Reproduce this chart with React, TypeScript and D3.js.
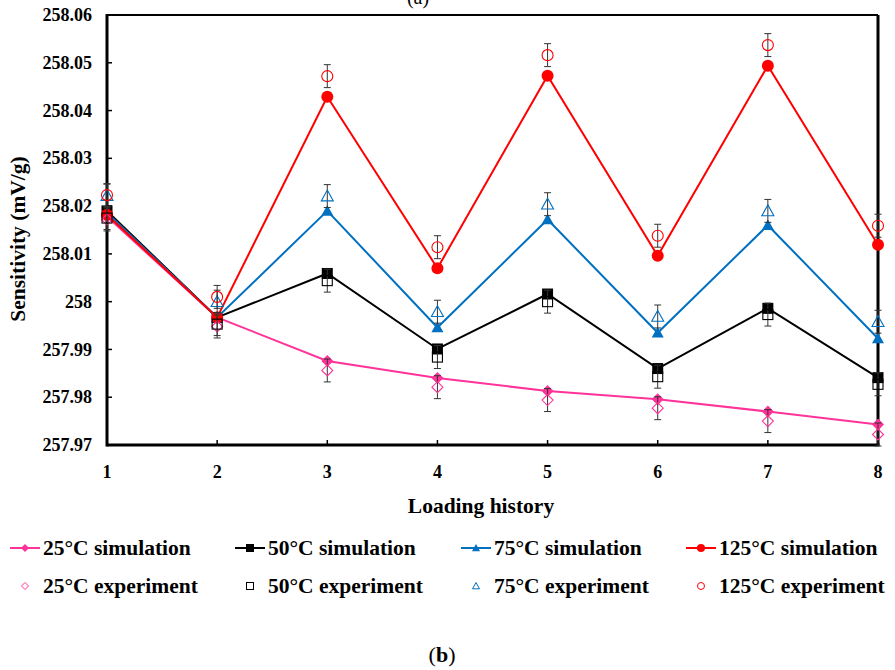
import * as d3 from 'd3';
import React from 'react';

const loadings = [1, 2, 3, 4, 5, 6, 7, 8];
const yTicks = [257.97, 257.98, 257.99, 258, 258.01, 258.02, 258.03, 258.04, 258.05, 258.06];

const sim25 = [258.0178, 257.9967, 257.9876, 257.984, 257.9813, 257.9796, 257.977, 257.9743];
const sim50 = [258.0190, 257.9967, 258.0059, 257.9901, 258.0016, 257.986, 257.9986, 257.9841];
const sim75 = [258.0186, 257.9967, 258.019, 257.9946, 258.0172, 257.9935, 258.016, 257.9923];
const sim125 = [258.0182, 257.9967, 258.0429, 258.007, 258.0473, 258.0096, 258.0494, 258.0119];

const exp25 = [258.0172, 257.9948, 257.9856, 257.9821, 257.9794, 257.9777, 257.975, 257.9722];
const exp50 = [258.0175, 257.9953, 258.0044, 257.9884, 258.0, 257.9843, 257.9973, 257.9827];
const exp75 = [258.0222, 258.0, 258.0221, 257.9979, 258.0204, 257.9969, 258.019, 257.9958];
const exp125 = [258.0223, 258.001, 258.0472, 258.0114, 258.0516, 258.0138, 258.0537, 258.0159];

// half-length of the error bars (mV/g)
const expError = 0.0024;

const series = [
    { name: '25°C', sim: sim25, exp: exp25, color: '#FF3399', shape: 'diamond' },
    { name: '50°C', sim: sim50, exp: exp50, color: '#000000', shape: 'square' },
    { name: '75°C', sim: sim75, exp: exp75, color: '#0070C0', shape: 'triangle' },
    { name: '125°C', sim: sim125, exp: exp125, color: '#FF0000', shape: 'circle' },
];

const W = 895;
const H = 670;
const margin = { left: 107, right: 878, top: 15, bottom: 445 };
const font = '"Liberation Serif", "Times New Roman", serif';

const marker = (shape: string, cx: number, cy: number, s: number, fill: string, stroke: string, sw: number, key?: any) => {
    if (shape === 'circle') {
        return <circle key={key} cx={cx} cy={cy} r={s / 2} fill={fill} stroke={stroke} strokeWidth={sw} />;
    }
    if (shape === 'square') {
        return <rect key={key} x={cx - s / 2} y={cy - s / 2} width={s} height={s} fill={fill} stroke={stroke} strokeWidth={sw} />;
    }
    if (shape === 'diamond') {
        const h = s / 2;
        return <path key={key} d={`M${cx},${cy - h}L${cx + h},${cy}L${cx},${cy + h}L${cx - h},${cy}Z`} fill={fill} stroke={stroke} strokeWidth={sw} />;
    }
    const h = s / 2;
    return <path key={key} d={`M${cx},${cy - h}L${cx + h},${cy + h * 0.8}L${cx - h},${cy + h * 0.8}Z`} fill={fill} stroke={stroke} strokeWidth={sw} />;
};

export default function App() {
    const x = d3.scaleLinear().domain([1, 8]).range([margin.left, margin.right]);
    const y = d3.scaleLinear().domain([257.97, 258.06]).range([margin.bottom, margin.top]);
    const line = d3.line<number>().x((_, i) => x(loadings[i])).y(d => y(d));

    const simSize: Record<string, number> = { diamond: 12, square: 11, triangle: 12, circle: 12 };
    const expSize: Record<string, number> = { diamond: 11, square: 10, triangle: 12, circle: 11 };

    const legendX = [10, 235, 461, 686];

    return (
        <svg width={W} height={H} style={{ position: 'absolute', left: 0, top: 0, background: '#fff' }} fontFamily={font}>
            <text x={418} y={4} textAnchor="middle" fontSize={20}>(a)</text>

            {/* axis ticks */}
            {yTicks.map(t => (
                <g key={t}>
                    <line x1={margin.left} x2={margin.left + 5} y1={y(t)} y2={y(t)} stroke="#000" strokeWidth={1.5} />
                    <text x={margin.left - 15} y={y(t)} dy="0.34em" textAnchor="end" fontSize={18} fontWeight="bold">
                        {d3.format('')(+t.toFixed(2))}
                    </text>
                </g>
            ))}
            {loadings.map(l => (
                <g key={l}>
                    <line x1={x(l)} x2={x(l)} y1={margin.bottom} y2={margin.bottom - 5} stroke="#000" strokeWidth={1.5} />
                    <text x={x(l)} y={478} textAnchor="middle" fontSize={18} fontWeight="bold">{l}</text>
                </g>
            ))}

            {/* frame */}
            <line x1={margin.left} x2={margin.right} y1={margin.top} y2={margin.top} stroke="#000" strokeWidth={2} />
            <line x1={margin.right} x2={margin.right} y1={margin.top} y2={margin.bottom} stroke="#000" strokeWidth={3} />
            <line x1={margin.left} x2={margin.left} y1={margin.top - 1} y2={margin.bottom + 1.5} stroke="#000" strokeWidth={3} />
            <line x1={margin.left} x2={margin.right + 1.5} y1={margin.bottom} y2={margin.bottom} stroke="#000" strokeWidth={3} />

            {/* simulations */}
            {series.map(s => (
                <g key={s.name + 'sim'}>
                    <path d={line(s.sim) || ''} fill="none" stroke={s.color} strokeWidth={2} />
                    {s.sim.map((v, i) => marker(s.shape, x(loadings[i]), y(v), simSize[s.shape], s.color, 'none', 0, i))}
                </g>
            ))}

            {/* experiments */}
            {series.map(s => (
                <g key={s.name + 'exp'}>
                    {s.exp.map((v, i) => (
                        <g key={i} stroke="#333" strokeWidth={1}>
                            <line x1={x(loadings[i])} x2={x(loadings[i])} y1={y(v - expError)} y2={y(v + expError)} />
                            <line x1={x(loadings[i]) - 3.5} x2={x(loadings[i]) + 3.5} y1={y(v - expError)} y2={y(v - expError)} />
                            <line x1={x(loadings[i]) - 3.5} x2={x(loadings[i]) + 3.5} y1={y(v + expError)} y2={y(v + expError)} />
                        </g>
                    ))}
                    {s.exp.map((v, i) => marker(s.shape, x(loadings[i]), y(v), expSize[s.shape], 'none', s.color, 1.1, 'm' + i))}
                </g>
            ))}

            {/* axis titles */}
            <text x={481} y={513} textAnchor="middle" fontSize={21.5} fontWeight="bold">Loading history</text>
            <text transform="translate(25,239) rotate(-90)" textAnchor="middle" fontSize={21.5} fontWeight="bold">Sensitivity (mV/g)</text>

            {/* legend */}
            {series.map((s, i) => (
                <g key={s.name + 'leg'} fontSize={21.5} fontWeight="bold">
                    <line x1={legendX[i]} x2={legendX[i] + 30} y1={548} y2={548} stroke={s.color} strokeWidth={2} />
                    {marker(s.shape, legendX[i] + 15, 548, 8, s.color, 'none', 0)}
                    <text x={legendX[i] + 33} y={555}>{s.name} simulation</text>
                    {marker(s.shape, legendX[i] + 15, 586, 7, 'none', s.color, 1)}
                    <text x={legendX[i] + 33} y={593}>{s.name} experiment</text>
                </g>
            ))}

            <text x={442} y={662} textAnchor="middle" fontSize={22}>
                (<tspan fontWeight="bold">b</tspan>)
            </text>
        </svg>
    );
}
